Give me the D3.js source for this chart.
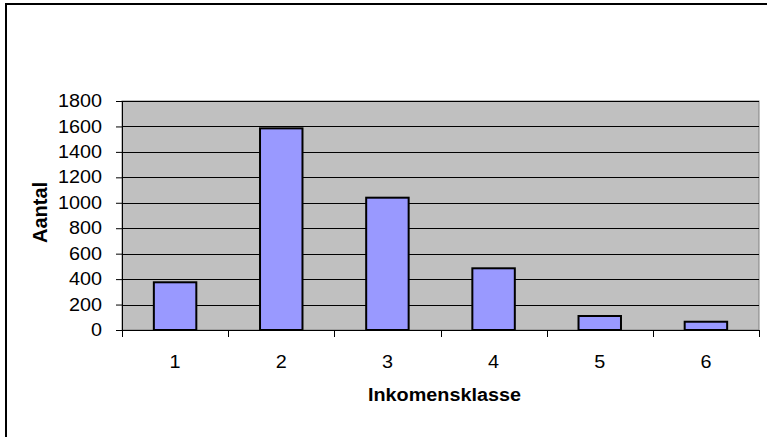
<!DOCTYPE html>
<html>
<head>
<meta charset="utf-8">
<script src="https://cdn.jsdelivr.net/npm/d3@7"></script>
<style>
  html, body { margin: 0; padding: 0; background: #fff; }
  svg { display: block; font-family: 'Liberation Sans', Arial, sans-serif; }
</style>
</head>
<body>
<svg id="chart" width="767" height="437"></svg>
<script>
// data
var klassen = ['1', '2', '3', '4', '5', '6'];
var aantallen = [375, 1585, 1040, 485, 110, 65];
var yTicks = [0, 200, 400, 600, 800, 1000, 1200, 1400, 1600, 1800];

var chart = d3.select('#chart'),
	margin = { top: 101, right: 8, bottom: 107, left: 122 },
	svgWidth = 767,
	svgHeight = 437,
	width = svgWidth - margin.left - margin.right,
	height = svgHeight - margin.top - margin.bottom;

// stretch text horizontally a bit, the picture is wider than tall
var stretch = function(sel, k) {
	sel.each(function() {
		var w = this.getComputedTextLength();
		d3.select(this)
			.attr('textLength', w * k)
			.attr('lengthAdjust', 'spacingAndGlyphs');
	});
};

// outer frame (only top and left visible)
chart.append('rect')
	.attr('x', 6)
	.attr('y', 4)
	.attr('width', 900)
	.attr('height', 600)
	.attr('fill', 'none')
	.attr('stroke', '#000')
	.attr('stroke-width', 2);

var xScale = d3.scaleBand()
	.domain(klassen)
	.range([0, width])
	.paddingInner(0.6)
	.paddingOuter(0.3);

var yScale = d3.scaleLinear()
	.domain([0, 1800])
	.range([height, 0]);

var g = chart.append('g')
	.attr('transform', 'translate(' + margin.left + ',' + margin.top + ')');

// plot area
g.append('rect')
	.attr('x', 0)
	.attr('y', 0)
	.attr('width', width)
	.attr('height', height)
	.attr('fill', '#c0c0c0')
	.attr('stroke', '#808080')
	.attr('stroke-width', 1);

// gridlines
g.selectAll('.grid')
	.data(yTicks.filter(function(d) { return d > 0; }))
	.enter()
	.append('line')
	.attr('class', 'grid')
	.attr('x1', 0)
	.attr('x2', width)
	.attr('y1', function(d) { return Math.round(yScale(d)) + 0.5; })
	.attr('y2', function(d) { return Math.round(yScale(d)) + 0.5; })
	.attr('stroke', '#000')
	.attr('stroke-width', 1);

// bars
g.selectAll('.bar')
	.data(aantallen)
	.enter()
	.append('rect')
	.attr('class', 'bar')
	.attr('x', function(d, i) { return xScale(klassen[i]); })
	.attr('y', function(d) { return yScale(d); })
	.attr('width', xScale.bandwidth())
	.attr('height', function(d) { return height - yScale(d); })
	.attr('fill', '#9999ff')
	.attr('stroke', '#000')
	.attr('stroke-width', 2);

// y axis
var yAxis = d3.axisLeft(yScale)
	.tickValues(yTicks)
	.tickSize(6)
	.tickPadding(14)
	.tickFormat(d3.format('d'));

var yAxisG = g.append('g')
	.attr('class', 'axis')
	.call(yAxis);

// x axis with ticks between categories
var step = xScale.step();
var xAxisG = g.append('g')
	.attr('class', 'axis')
	.attr('transform', 'translate(0,' + height + ')');

xAxisG.append('line')
	.attr('x1', 0)
	.attr('x2', width)
	.attr('y1', 0.5)
	.attr('y2', 0.5)
	.attr('stroke', '#000');

xAxisG.selectAll('.xtick')
	.data(d3.range(klassen.length + 1))
	.enter()
	.append('line')
	.attr('class', 'xtick')
	.attr('x1', function(i) { return Math.round(i * step) + 0.5; })
	.attr('x2', function(i) { return Math.round(i * step) + 0.5; })
	.attr('y1', 0)
	.attr('y2', 7)
	.attr('stroke', '#000');

xAxisG.selectAll('.xlabel')
	.data(klassen)
	.enter()
	.append('text')
	.attr('class', 'xlabel')
	.attr('x', function(d) { return xScale(d) + xScale.bandwidth() / 2; })
	.attr('y', 32)
	.attr('dy', '0.35em')
	.attr('text-anchor', 'middle')
	.attr('font-size', 17.5)
	.attr('fill', '#000')
	.text(function(d) { return d; });

chart.selectAll('.axis path.domain').attr('stroke', '#000');
chart.selectAll('.axis .tick line').attr('stroke', '#000');
yAxisG.selectAll('.tick text')
	.attr('font-size', 17.5)
	.attr('font-family', "'Liberation Sans', Arial, sans-serif")
	.attr('fill', '#000')
	.call(stretch, 1.13);
xAxisG.selectAll('.xlabel').call(stretch, 1.13);

// axis titles
chart.append('text')
	.attr('x', margin.left + width / 2 + 4)
	.attr('y', 395)
	.attr('dy', '0.35em')
	.attr('text-anchor', 'middle')
	.attr('font-size', 18)
	.attr('font-weight', 'bold')
	.attr('fill', '#000')
	.text('Inkomensklasse')
	.call(stretch, 1.1);

chart.append('text')
	.attr('transform', 'translate(40,' + (margin.top + height / 2 - 3) + ') rotate(-90)')
	.attr('text-anchor', 'middle')
	.attr('dy', '0.35em')
	.attr('font-size', 20)
	.attr('font-weight', 'bold')
	.attr('fill', '#000')
	.text('Aantal');
</script>
</body>
</html>
